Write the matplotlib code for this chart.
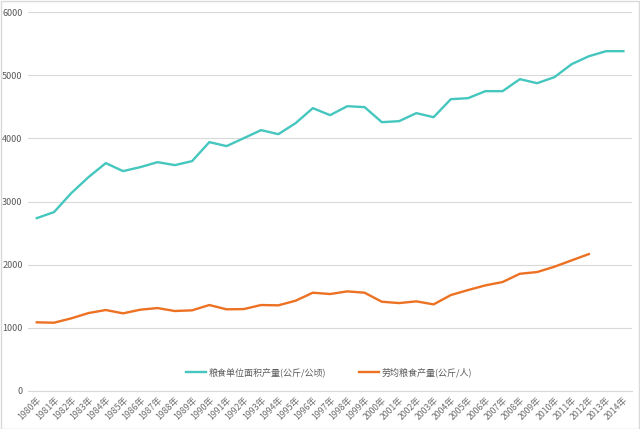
import matplotlib
matplotlib.use("Agg")
import matplotlib.pyplot as plt
from matplotlib.patches import Rectangle

plt.rcParams['font.family'] = ['Noto Sans CJK SC', 'DejaVu Sans']

years = list(range(1980, 2015))
labels = [f"{y}年" for y in years]

yield_per_area = [2737, 2832, 3133, 3386, 3608, 3481, 3544, 3623, 3576, 3639,
                  3940, 3877, 4003, 4130, 4066, 4240, 4478, 4367, 4509, 4494,
                  4256, 4272, 4399, 4335, 4620, 4636, 4747, 4747, 4937, 4873,
                  4968, 5174, 5300, 5380, 5380]
yield_per_labor = [1087, 1081, 1150, 1234, 1282, 1229, 1287, 1313, 1266, 1277,
                   1361, 1293, 1297, 1361, 1356, 1429, 1556, 1535, 1577, 1556,
                   1413, 1392, 1419, 1371, 1519, 1598, 1672, 1725, 1856, 1883,
                   1967, 2068, 2168]

series_names = ["粮食单位面积产量(公斤/公顷)", "劳均粮食产量(公斤/人)"]

fig = plt.figure(figsize=(6.4, 4.29), dpi=100)
ax = fig.add_axes([0.044, 0.0886, 0.9435, 0.8834])

x = list(range(len(years)))
ax.plot(x, yield_per_area, color="#45C6BE", lw=1.7, label=series_names[0])
ax.plot(x[:len(yield_per_labor)], yield_per_labor, color="#ED7123", lw=1.7, label=series_names[1])

ax.set_ylim(0, 6000)
ax.set_xlim(-0.5, len(years) - 0.5)
ax.set_yticks(range(0, 6001, 1000))
ax.tick_params(axis='y', length=0, labelsize=6.5, colors="#595959", pad=4)
ax.grid(axis='y', color="#D9D9D9", lw=0.8)
ax.set_axisbelow(True)
for s in ["top", "right", "left"]:
    ax.spines[s].set_visible(False)
ax.spines["bottom"].set_color("#D9D9D9")
ax.set_xticks(x)
ax.set_xticklabels(labels, rotation=45, ha="right", rotation_mode="anchor",
                   fontsize=6.3, color="#6E6E6E")
ax.tick_params(axis='x', length=0, pad=3)

ax.legend(loc="center", bbox_to_anchor=(0.514, 0.133), bbox_transform=fig.transFigure,
          ncol=2, frameon=False, fontsize=6.5, handlelength=2.2, handletextpad=0.3,
          columnspacing=3.6, labelcolor="#595959")

fig.patches.append(Rectangle((0.001, 0.001), 0.997, 0.997, transform=fig.transFigure,
                             fill=False, edgecolor="#D9D9D9", lw=1))

fig.savefig("out.png", dpi=100)
